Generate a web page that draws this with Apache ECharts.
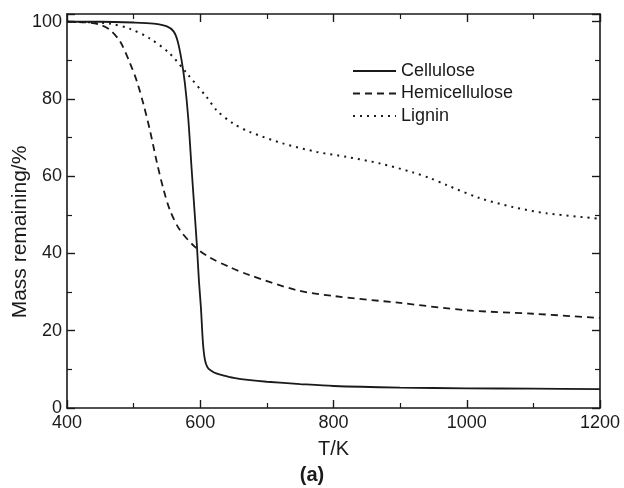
<!DOCTYPE html>
<html>
<head>
<meta charset="utf-8">
<script src="https://cdn.jsdelivr.net/npm/echarts@6/dist/echarts.min.js"></script>
<style>html,body{margin:0;padding:0;background:#fff;}#c{width:624px;height:488px;}</style>
</head>
<body>
<div id="c"></div>
<script>
var seriesNames = ['Cellulose', 'Hemicellulose', 'Lignin'];

var celluloseT = [400, 450, 500, 530, 550, 560, 566, 572, 577, 582, 587, 592, 595, 598, 601, 604, 607, 611, 617, 625, 635, 650, 675, 700, 750, 800, 900, 1000, 1100, 1200];
var celluloseV = [100, 100, 99.8, 99.5, 98.8, 97.5, 95, 90, 84, 75, 62, 49.5, 42, 33, 26, 17, 12.5, 10.5, 9.6, 8.9, 8.4, 7.8, 7.2, 6.8, 6.2, 5.7, 5.3, 5.1, 5.0, 4.9];

var hemiT = [400, 430, 450, 465, 480, 494, 505, 515, 525, 535, 545, 555, 569, 592, 614, 644, 674, 745, 800, 900, 1000, 1100, 1200];
var hemiV = [100, 99.8, 99.2, 97.8, 94.8, 89.5, 84.5, 78.5, 71.5, 63.5, 56.5, 51, 46.2, 41.7, 39, 36.5, 34.4, 30.5, 29, 27.2, 25.3, 24.4, 23.3];

var ligninT = [400, 440, 465, 494, 524, 554, 580, 610, 625, 649, 674, 724, 775, 820, 870, 919, 945, 970, 1020, 1070, 1120, 1200];
var ligninV = [100, 99.8, 99.5, 98.2, 95.7, 91.8, 86.6, 80.4, 77, 73.7, 71.5, 68.5, 66.3, 65, 63.3, 61, 59.5, 57.7, 54.3, 52, 50.4, 49];

var xTicks = [400, 600, 800, 1000, 1200];
var yTicks = [0, 20, 40, 60, 80, 100];

function pairs(t, v) { return t.map(function (x, i) { return [x, v[i]]; }); }

var FONT = 'Liberation Sans';
var INK = '#1a1a1a';

function axisCommon(showLabel) {
  return {
    axisLine: { show: true, onZero: false, lineStyle: { color: INK, width: 1.6 } },
    axisTick: { show: true, inside: true, length: 8, lineStyle: { color: INK, width: 1.4 } },
    minorTick: { show: true, splitNumber: 2, length: 5, lineStyle: { color: INK, width: 1.2 } },
    splitLine: { show: false },
    axisLabel: { show: showLabel, color: INK, fontFamily: FONT, fontSize: 18,
      formatter: function (v) { return String(v); } }
  };
}

var xb = axisCommon(true);
var xBottom = Object.assign({ type: 'value', position: 'bottom', min: 400, max: 1200, interval: 200,
  name: 'T/K', nameLocation: 'middle', nameGap: 31,
  nameTextStyle: { color: INK, fontFamily: FONT, fontSize: 20 } }, xb);
xBottom.axisLabel.margin = 6;
var xTop = Object.assign({ type: 'value', position: 'top', min: 400, max: 1200, interval: 200 }, axisCommon(false));

var yl = axisCommon(true);
var yLeft = Object.assign({ type: 'value', position: 'left', min: 0, max: 102, interval: 20,
  name: 'Mass remaining/%', nameLocation: 'middle', nameGap: 36, nameMoveOverlap: false,
  nameTextStyle: { color: INK, fontFamily: FONT, fontSize: 21, padding: [0, 42, 0, 0] } }, yl);
yLeft.axisLabel.margin = 5;
yLeft.axisLabel.showMaxLabel = false;
var yRight = Object.assign({ type: 'value', position: 'right', min: 0, max: 102, interval: 20 }, axisCommon(false));

var styles = [
  { color: INK, width: 1.8, type: 'solid' },
  { color: INK, width: 1.8, type: [7, 5] },
  { color: INK, width: 2, type: [2, 5] }
];
var datas = [pairs(celluloseT, celluloseV), pairs(hemiT, hemiV), pairs(ligninT, ligninV)];

var option = {
  animation: false,
  backgroundColor: '#fff',
  grid: { left: 67, right: 24, top: 14, bottom: 80, containLabel: false, outerBoundsMode: 'none' },
  title: { text: '(a)', left: 'center', top: 460,
    textStyle: { fontFamily: FONT, fontSize: 20, fontWeight: 'bold', color: INK } },
  legend: {
    orient: 'vertical', left: 347, top: 57, itemWidth: 43, itemHeight: 14, itemGap: 4.5,
    itemStyle: { opacity: 0 },
    textStyle: { fontFamily: FONT, fontSize: 18, color: INK },
    data: seriesNames
  },
  xAxis: [xBottom, xTop],
  yAxis: [yLeft, yRight],
  series: seriesNames.map(function (n, i) {
    return { name: n, type: 'line', xAxisIndex: 0, yAxisIndex: 0, data: datas[i],
      showSymbol: false, symbol: 'none', smooth: 0.3, color: INK, lineStyle: styles[i] };
  })
};

var chart = echarts.init(document.getElementById('c'), null, { renderer: 'canvas' });
chart.setOption(option);
</script>
</body>
</html>
